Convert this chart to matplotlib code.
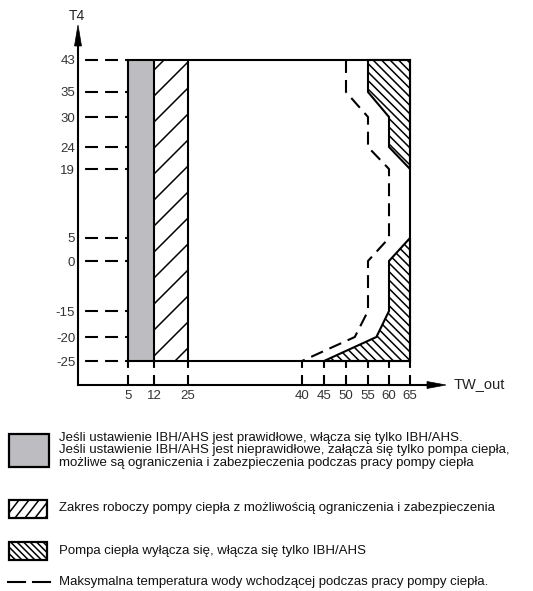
import numpy as np
import matplotlib
matplotlib.use("Agg")
import matplotlib.pyplot as plt
from matplotlib.transforms import Affine2D, blended_transform_factory
from matplotlib.collections import LineCollection
from matplotlib.patches import Polygon, Rectangle

# ---------------- data ----------------
tw_ticks = [5, 12, 25, 40, 45, 50, 55, 60, 65]
tw_labels = ["5", "12", "25", "40", "45", "50", "55", "60", "65"]
t4_ticks = [-25, -20, -15, 0, 5, 19, 24, 30, 35, 43]
t4_labels = ["-25", "-20", "-15", "0", "5", "19", "24", "30", "35", "43"]

ibh_range = [5, 12]            # IBH/AHS only (grey)
hp_limited_range = [12, 25]    # heat pump with limits (/// hatch)
t4_range = [-25, 43]
tw_range = [5, 65]

off_upper_x = [55, 65, 65, 60, 60, 55]
off_upper_y = [43, 43, 19, 24, 30, 35]
off_lower_x = [65, 60, 60, 57, 45, 65]
off_lower_y = [5, 0, -15, -20, -25, -25]

maxt_x = [50, 50, 55, 55, 60, 60, 55, 55, 52, 40]
maxt_y = [43, 35, 30, 24, 19, 5, 0, -15, -20, -25]

legend_texts = [
    ["Jeśli ustawienie IBH/AHS jest prawidłowe, włącza się tylko IBH/AHS.",
     "Jeśli ustawienie IBH/AHS jest nieprawidłowe, załącza się tylko pompa ciepła,",
     "możliwe są ograniczenia i zabezpieczenia podczas pracy pompy ciepła"],
    ["Zakres roboczy pompy ciepła z możliwością ograniczenia i zabezpieczenia"],
    ["Pompa ciepła wyłącza się, włącza się tylko IBH/AHS"],
    ["Maksymalna temperatura wody wchodzącej podczas pracy pompy ciepła."],
]

# ---------------- layout (pixel positions of the scale breakpoints) ----------------
W, H, DPI = 533, 591, 100
x_break_px = [128, 154, 188, 302, 324, 346, 368, 389, 410]
y_break_px = [361, 337, 311, 261, 238, 169, 147, 117, 92, 60]

plt.rcParams['font.family'] = ['Liberation Sans', 'DejaVu Sans']
fig = plt.figure(figsize=(W / DPI, H / DPI), dpi=DPI)
# image-pixel transform (origin top-left)
T = Affine2D().scale(1 / DPI, -1 / DPI).translate(0, H / DPI) + fig.dpi_scale_trans

L, R, TOP, BOT = 128, 410, 60, 361
ax = fig.add_axes([L / W, (H - BOT) / H, (R - L) / W, (BOT - TOP) / H])


def piecewise(vals, pos):
    vals = np.asarray(vals, float)
    pos = np.asarray(pos, float)
    s0 = (pos[1] - pos[0]) / (vals[1] - vals[0])
    s1 = (pos[-1] - pos[-2]) / (vals[-1] - vals[-2])

    def f(v):
        v = np.asarray(v, float)
        out = np.interp(v, vals, pos)
        out = np.where(v < vals[0], pos[0] + (v - vals[0]) * s0, out)
        out = np.where(v > vals[-1], pos[-1] + (v - vals[-1]) * s1, out)
        return out
    return f


ypos = [-p for p in y_break_px]
ax.set_xscale('function', functions=(piecewise(tw_ticks, x_break_px), piecewise(x_break_px, tw_ticks)))
ax.set_yscale('function', functions=(piecewise(t4_ticks, ypos), piecewise(ypos, t4_ticks)))
ax.set_xlim(tw_range)
ax.set_ylim(t4_range)
ax.set_frame_on(False)

LW = 1.5
DASH = (6.2, 3.4)
K = 'black'

# grey IBH region
ax.fill_between(ibh_range, t4_range[0], t4_range[1], color='#bdbcc0', lw=0, zorder=1)

# hatched regions (patches used as clip paths)
hp_patch = Rectangle((hp_limited_range[0], t4_range[0]), hp_limited_range[1] - hp_limited_range[0],
                     t4_range[1] - t4_range[0], fc='none', ec='none')
ax.add_patch(hp_patch)
up_patch = Polygon(np.column_stack([off_upper_x, off_upper_y]), closed=True, fc='none', ec=K, lw=LW,
                   zorder=4, joinstyle='miter', clip_on=False)
lo_patch = Polygon(np.column_stack([off_lower_x, off_lower_y]), closed=True, fc='none', ec=K, lw=LW,
                   zorder=4, joinstyle='miter', clip_on=False)
ax.add_patch(up_patch)
ax.add_patch(lo_patch)


def hatch_lines(kind, cs, x0, x1):
    segs = []
    for c in cs:
        if kind == '/':   # x + y = c (image coords)
            segs.append([(x0, c - x0), (x1, c - x1)])
        else:             # y - x = c
            segs.append([(x0, c + x0), (x1, c + x1)])
    return segs


lc = LineCollection(hatch_lines('/', np.arange(536 - 26 * 16, 536 + 27, 26), 100, 250),
                    colors=K, linewidths=1.1, transform=T, zorder=3)
ax.add_collection(lc, autolim=False)
lc.set_clip_path(hp_patch)

for patch in (up_patch, lo_patch):
    lc2 = LineCollection(hatch_lines('\\', np.arange(-500, 100, 8.5), 250, 500),
                         colors=K, linewidths=1.1, transform=T, zorder=3)
    ax.add_collection(lc2, autolim=False)
    lc2.set_clip_path(patch)

# frame lines of the working area
ax.plot(tw_range, [t4_range[1]] * 2, color=K, lw=LW, zorder=5, solid_capstyle='projecting', clip_on=False)
ax.plot(tw_range, [t4_range[0]] * 2, color=K, lw=LW, zorder=5, solid_capstyle='projecting', clip_on=False)
ax.vlines([ibh_range[0], ibh_range[1], hp_limited_range[1], tw_range[1]], t4_range[0], t4_range[1],
          color=K, lw=LW, zorder=5, clip_on=False)

# max water temperature line
ax.plot(maxt_x, maxt_y, color=K, lw=LW, dashes=DASH, zorder=5, clip_on=False)

# leader dashes to axes
AXX = (78 - L) / (R - L)       # y-axis position in axes fraction
AXY = (BOT - 385) / (BOT - TOP)  # x-axis position in axes fraction
ty = blended_transform_factory(ax.transAxes, ax.transData)
for t in t4_ticks:
    ax.plot([AXX, 0], [t, t], transform=ty, color=K, lw=LW, linestyle=(6.2, DASH), clip_on=False)
tx = blended_transform_factory(ax.transData, ax.transAxes)
for t in tw_ticks:
    ax.plot([t, t], [AXY, 0], transform=tx, color=K, lw=LW, dashes=(4.8, 3.4), clip_on=False)

# axes arrows
ax.plot([78, 78], [386, 40], transform=T, color=K, lw=LW, clip_on=False, solid_capstyle='butt')
ax.plot([77, 430], [385, 385], transform=T, color=K, lw=LW, clip_on=False, solid_capstyle='butt')
ax.add_patch(Polygon([(78, 25), (74.5, 46), (81.5, 46)], closed=True, transform=T, fc=K, ec=K, lw=0.5, clip_on=False))
ax.add_patch(Polygon([(446, 385), (427, 381.5), (427, 388.5)], closed=True, transform=T, fc=K, ec=K, lw=0.5, clip_on=False))
fig.text(77, 16, "T4", transform=T, ha='center', va='center', fontsize=10, color='#222')
fig.text(454, 384, "TW_out", transform=T, ha='left', va='center', fontsize=10.5, color='#222')

# ticks
ax.set_xticks(tw_ticks, labels=tw_labels)
ax.set_yticks(t4_ticks, labels=t4_labels)
ax.tick_params(axis='both', length=0, labelsize=9.5, labelcolor='#333')
ax.tick_params(axis='x', pad=21)
ax.tick_params(axis='y', pad=38)
ax.minorticks_off()

# ---------------- legend ----------------
FS = 9.5
# box 1 grey
ax.add_patch(Rectangle((9, 434), 40, 33, transform=T, fc='#bdbcc0', ec=K, lw=1.6, clip_on=False))
for i, s in enumerate(legend_texts[0]):
    fig.text(59, 438 + 12.5 * i, s, transform=T, ha='left', va='center', fontsize=FS, color='#111')
# box 2 ///
b2 = Rectangle((9, 500), 38, 18, transform=T, fc='none', ec=K, lw=1.6, clip_on=False)
ax.add_patch(b2)
seg2 = [[(9 + k * 10 - 4, 518), (9 + k * 10 + 10, 500)] for k in range(-1, 5)]
l2 = LineCollection(seg2, colors=K, linewidths=1.1, transform=T)
ax.add_collection(l2, autolim=False)
l2.set_clip_path(b2)
fig.text(59, 508, legend_texts[1][0], transform=T, ha='left', va='center', fontsize=FS, color='#111')
# box 3 \\\
b3 = Rectangle((9, 542), 38, 18, transform=T, fc='none', ec=K, lw=1.6, clip_on=False)
ax.add_patch(b3)
seg3 = [[(9 + k * 6.5 - 18, 542), (9 + k * 6.5, 560)] for k in range(0, 12)]
l3 = LineCollection(seg3, colors=K, linewidths=1.1, transform=T)
ax.add_collection(l3, autolim=False)
l3.set_clip_path(b3)
fig.text(59, 551, legend_texts[2][0], transform=T, ha='left', va='center', fontsize=FS, color='#111')
# dashed legend
ax.plot([8, 25], [582, 582], transform=T, color=K, lw=LW, clip_on=False)
ax.plot([33, 50], [582, 582], transform=T, color=K, lw=LW, clip_on=False)
fig.text(59, 582, legend_texts[3][0], transform=T, ha='left', va='center', fontsize=FS, color='#111')

fig.savefig("out.png", dpi=DPI)
